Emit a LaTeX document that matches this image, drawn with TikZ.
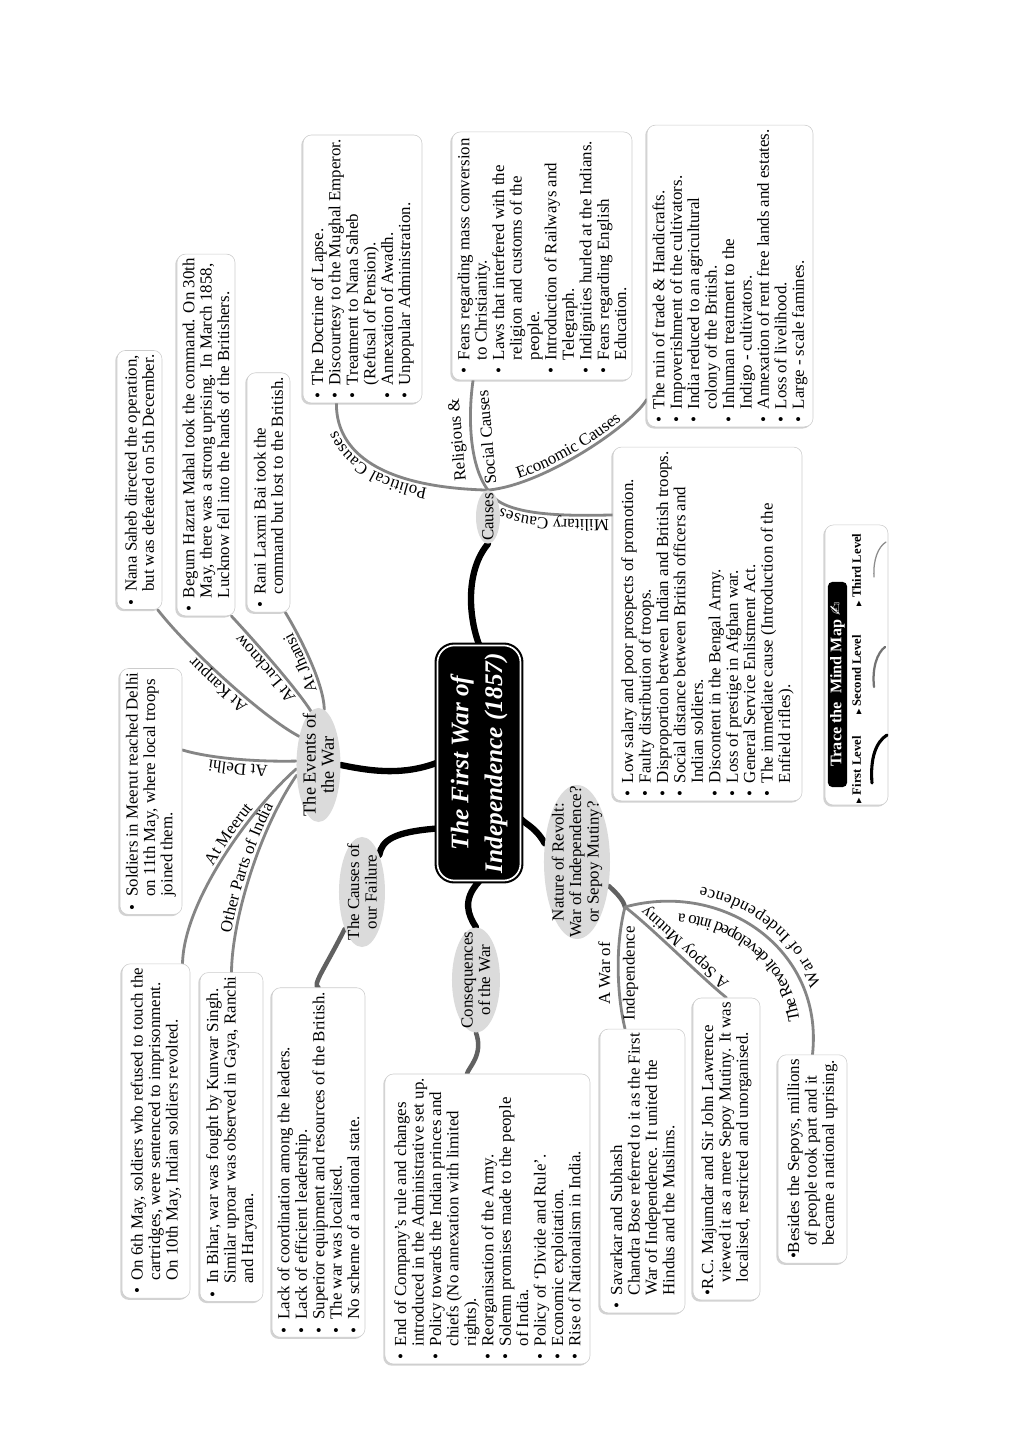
\documentclass[tikz,border=0pt]{standalone}
\usepackage{fontspec}
\setmainfont{Liberation Serif}
\newfontfamily\symfont{DejaVu Sans}
\usetikzlibrary{shapes.geometric,shadows,decorations.text}
\pgfdeclarelayer{bg}
\pgfsetlayers{bg,main}

\newcommand{\bul}{\makebox[0.8em][l]{\textbullet}}
\newcommand{\hang}{\hspace*{0.8em}}
\newcommand{\lblfont}{\fontsize{12}{12}\selectfont}

\begin{document}
\begin{tikzpicture}[x=0.025cm,y=0.025cm,rotate=90,transform shape,
  every node/.style={font=\fontsize{12}{12.4}\selectfont},
  leaf/.style={draw=black!20,fill=white,rounded corners=6pt,align=left,inner sep=3pt,
    drop shadow={opacity=0.35,shadow xshift=-1.2pt,shadow yshift=-1.2pt}},
  topic/.style={ellipse,fill=black!14,inner sep=0pt},
  topictext/.style={align=center,inner sep=0pt},
  lvlone/.style={line width=4.5pt,line cap=round,black},
  lvltwo/.style={line width=3.2pt,line cap=round,black!62},
  lvlthree/.style={line width=2pt,line cap=round,black!48},
  tag/.style={inner sep=1.5pt,text=black},
  lbl/.style 2 args={postaction={decorate,decoration={text along path,text align=center,
    raise=#1,text={|\lblfont\color{black}|#2}}}},
  lblat/.style n args={3}{postaction={decorate,decoration={text along path,
    text align={left indent=#3},raise=#1,text={|\lblfont\color{black}|#2}}}}]
\begin{pgfonlayer}{bg}
\fill[white] (0,0) rectangle (1440,1024);
\end{pgfonlayer}
\useasboundingbox (0,0) rectangle (1440,1024);

% centre
\node[fill=black,draw=black,double=white,double distance=1.2pt,line width=1.5pt,
  rounded corners=12pt,minimum width=5.875cm,minimum height=2.075cm,text=white,align=center,
  font=\fontsize{18}{24}\selectfont\bfseries\itshape] (title) at (677,545)
  {The First War of\\Independence (1857)};

% topics
\node[topic,minimum width=1.33cm,minimum height=0.6cm,label={[topictext]center:Causes}] (causes) at (923,536) {};
\node[topic,minimum width=2.85cm,minimum height=1.1cm,
  label={[topictext,font=\fontsize{13}{13}\selectfont]center:The Events of\\the War}] (events) at (675,705.5) {};
\node[topic,minimum width=2.75cm,minimum height=1.15cm,
  label={[topictext]center:The Causes of\\our Failure}] (failure) at (548,662) {};
\node[topic,minimum width=2.625cm,minimum height=1.2cm,
  label={[topictext]center:Consequences\\of the War}] (conseq) at (460,548) {};
\node[topic,minimum width=3.85cm,minimum height=1.65cm,
  label={[topictext]center:Nature of Revolt:\\War of Independence?\\or Sepoy Mutiny?}] (nature) at (578,447) {};
\coordinate (natjoin) at (533,399);

% events of the war
\node[leaf,minimum width=6.15cm,minimum height=1.125cm] (nana) at (960,884.5)
  {\bul Nana Saheb directed the operation,\\\hang but was defeated on 5th December.};
\node[leaf,minimum width=8.4cm,minimum height=1.45cm] (begum) at (1005,818)
  {\bul Begum Hazrat Mahal took the command. On 30th\\\hang May, there was a strong uprising. In March 1858,\\\hang Lucknow fell into the hands of the Britishers.};
\node[leaf,minimum width=5.525cm,minimum height=1.075cm] (rani) at (947.5,755.5)
  {\bul Rani Laxmi Bai took the\\\hang command but lost to the British.};
\node[leaf,minimum width=5.925cm,minimum height=1.55cm] (delhi) at (648.5,873)
  {\bul Soldiers in Meerut reached Delhi\\\hang on 11th May, where local troops\\\hang joined them.};
\node[leaf,minimum width=7.95cm,minimum height=1.7cm] (meerut) at (309,868)
  {\bul On 6th May, soldiers who refused to touch the\\\hang cartridges, were sentenced to imprisonment.\\\hang On 10th May, Indian soldiers revolted.};
\node[leaf,minimum width=7.75cm,minimum height=1.575cm] (otherp) at (303,792.5)
  {\bul In Bihar, war was fought by Kunwar Singh.\\\hang Similar uproar was observed in Gaya, Ranchi\\\hang and Haryana.};

% causes
\node[leaf,minimum width=6.3cm,minimum height=2.975cm] (polit) at (1171,661.5)
  {\bul The Doctrine of Lapse.\\
   \bul Discourtesy to the Mughal Emperor.\\
   \bul Treatment to Nana Saheb\\
   \hang (Refusal of Pension).\\
   \bul Annexation of Awadh.\\
   \bul Unpopular Administration.};
\node[leaf,minimum width=6.2cm,minimum height=4.5cm] (social) at (1184,482)
  {\bul Fears regarding mass conversion\\
   \hang to Christianity.\\
   \bul Laws that interfered with the\\
   \hang religion and customs of the\\
   \hang people.\\
   \bul Introduction of Railways and\\
   \hang Telegraph.\\
   \bul Indignities hurled at the Indians.\\
   \bul Fears regarding English\\
   \hang Education.};
\node[leaf,minimum width=7.2cm,minimum height=4.15cm] (econ) at (1164,294)
  {\bul The ruin of trade \& Handicrafts.\\
   \bul Impoverishment of the cultivators.\\
   \bul India reduced to an agricultural\\
   \hang colony of the British.\\
   \bul Inhuman treatment to the\\
   \hang Indigo - cultivators.\\
   \bul Annexation of rent free lands and estates.\\
   \bul Loss of livelihood.\\
   \bul Large - scale famines.};
\node[leaf,minimum width=8.55cm,minimum height=4.725cm] (milit) at (816,316.5)
  {\bul Low salary and poor prospects of promotion.\\
   \bul Faulty distribution of troops.\\
   \bul Disproportion between Indian and British troops.\\
   \bul Social distance between British officers and\\
   \hang Indian soldiers.\\
   \bul Discontent in the Bengal Army.\\
   \bul Loss of prestige in Afghan war.\\
   \bul General Service Enlistment Act.\\
   \bul The immediate cause (Introduction of the\\
   \hang Enfield rifles).};

% failure and consequences
\node[leaf,minimum width=8.375cm,minimum height=2.325cm] (failbox) at (277.5,705.5)
  {\bul Lack of coordination among the leaders.\\
   \bul Lack of efficient leadership.\\
   \bul Superior equipment and resources of the British.\\
   \bul The war was localised.\\
   \bul No scheme of a national state.};
\node[leaf,minimum width=6.8cm,minimum height=5.125cm] (consbox) at (221,536.5)
  {\bul End of Company's rule and changes\\
   \hang introduced in the Administrative set up.\\
   \bul Policy towards the Indian princes and\\
   \hang chiefs (No annexation with limited\\
   \hang rights).\\
   \bul Reorganisation of the Army.\\
   \bul Solemn promises made to the people\\
   \hang of India.\\
   \bul Policy of `Divide and Rule'.\\
   \bul Economic exploitation.\\
   \bul Rise of Nationalism in India.};

% nature of revolt
\node[leaf,minimum width=6.45cm,minimum height=2.125cm] (indep) at (269,381.5)
  {\bul Savarkar and Subhash\\\hang Chandra Bose referred to it as the First\\\hang War of Independence. It united the\\\hang Hindus and the Muslims.};
\node[leaf,minimum width=6.8cm,minimum height=1.675cm] (sepoy) at (291,297.5)
  {\textbullet R.C. Majumdar and Sir John Lawrence\\\hang viewed it as a mere Sepoy Mutiny. It was\\\hang localised, restricted and unorganised.};
\node[leaf,minimum width=4.95cm,minimum height=1.725cm] (revolt) at (281,211.5)
  {\textbullet Besides the Sepoys, millions\\\hang of people took part and it\\\hang became a national uprising.};

\begin{pgfonlayer}{bg}
% first level
\draw[lvlone] (title.east) .. controls (825,556) and (870,558) .. (causes.west);
\draw[lvlone] (title.north) .. controls (665,620) and (668,650) .. (events.south);
\draw[lvlone] (title.147) .. controls (608,630) and (600,642) .. (failure.-25);
\draw[lvlone] (title.west) .. controls (540,562) and (525,556) .. (conseq.east);
\draw[lvlone] (title.217) .. controls (615,497) and (612,488) .. (nature.60);

% second level
\draw[lvltwo] (failure.155) .. controls (470,700) and (455,712) .. (failbox.east);
\draw[lvltwo] (conseq.west) .. controls (385,540) and (372,556) .. (consbox.8);
\draw[lvltwo] (nature.233) .. controls (545,405) and (538,400) .. (natjoin);

% third level, with their labels
\draw[lvlthree,lblat={3pt}{Political Causes}{1.5cm}] (causes.east) .. controls (953,655) and (995,688) .. (polit.169);
\draw[lvlthree] (causes.east) .. controls (975,555) and (1025,556) .. (social.151)
  node[tag,pos=.5,rotate=5,align=center] (lsoc) {Religious \&\\[9pt]Social Causes};
\draw[lvlthree,lbl={3pt}{Economic Causes}] (causes.east) .. controls (955,480) and (1015,392) .. (econ.146);
\draw[lvlthree,lblat={3pt}{Military Causes}{0.1cm}] (milit.41) .. controls (923,480) and (928,525) .. (causes.east);
\draw[lvlthree,lbl={3pt}{At Kanpur}] (events.34) .. controls (722,760) and (790,835) .. (nana.188);
\draw[lvlthree,lbl={3pt}{At Lucknow}] (events.8) .. controls (755,730) and (805,775) .. (begum.188);
\draw[lvlthree,lbl={3pt}{At Jhansi}] (events.-6) .. controls (755,700) and (800,722) .. (rani.188);
\draw[lvlthree,lbl={3pt}{At Delhi}] (events.80) .. controls (678,770) and (682,815) .. (delhi.323);
\draw[lvlthree,lblat={3pt}{At Meerut}{2.55cm}] (meerut.351) .. controls (540,840) and (632,772) .. (events.100);
\draw[lvlthree,lbl={3pt}{Other Parts of India}] (otherp.east) .. controls (520,792) and (610,765) .. (events.115);
\draw[lvlthree] (natjoin) .. controls (490,410) and (440,406) .. (indep.7)
  node[tag,pos=.5,align=center] (lwar) {A War of\\[5pt]Independence};
\draw[lvlthree,lblat={-10pt}{A Sepoy Mutiny}{0.2cm}] (sepoy.east) .. controls (460,320) and (515,375) .. (natjoin);
\draw[lvlthree,lblat={9pt}{The Revolt developed into a}{0.9cm},lblat={-12pt}{War of Independence}{1.6cm}]
  (revolt.east) .. controls (490,200) and (560,300) .. (natjoin);
\end{pgfonlayer}

% legend
\node[leaf,minimum width=7cm,minimum height=1.575cm] (legend) at (775,167.5) {};
\node[fill=black,rounded corners=3pt,text=white,inner sep=1pt,minimum width=5.125cm,minimum height=0.475cm,
  font=\fontsize{11.5}{12}\selectfont\bfseries] (trace) at (755.5,186.5) {Trace the\ \ Mind Map {\symfont\mdseries ✍}};
\node[font=\fontsize{9}{10}\selectfont\bfseries] (first) at (670,167) {{\symfont\tiny ▶} First Level};
\node[font=\fontsize{9}{10}\selectfont\bfseries] (second) at (765,167) {{\symfont\tiny ▶} Second Level};
\node[font=\fontsize{9}{10}\selectfont\bfseries] (third) at (870,167) {{\symfont\tiny ▶} Third Level};
\draw[line width=2.2pt,line cap=round] (657,152) .. controls (682,154) and (698,148) .. (705,137);
\draw[line width=1.6pt,line cap=round,black!55] (753,150) .. controls (772,152) and (787,147) .. (793,139);
\draw[line width=0.9pt,line cap=round,black!45] (863,150) .. controls (880,151) and (893,146) .. (898,138);
\end{tikzpicture}
\end{document}
